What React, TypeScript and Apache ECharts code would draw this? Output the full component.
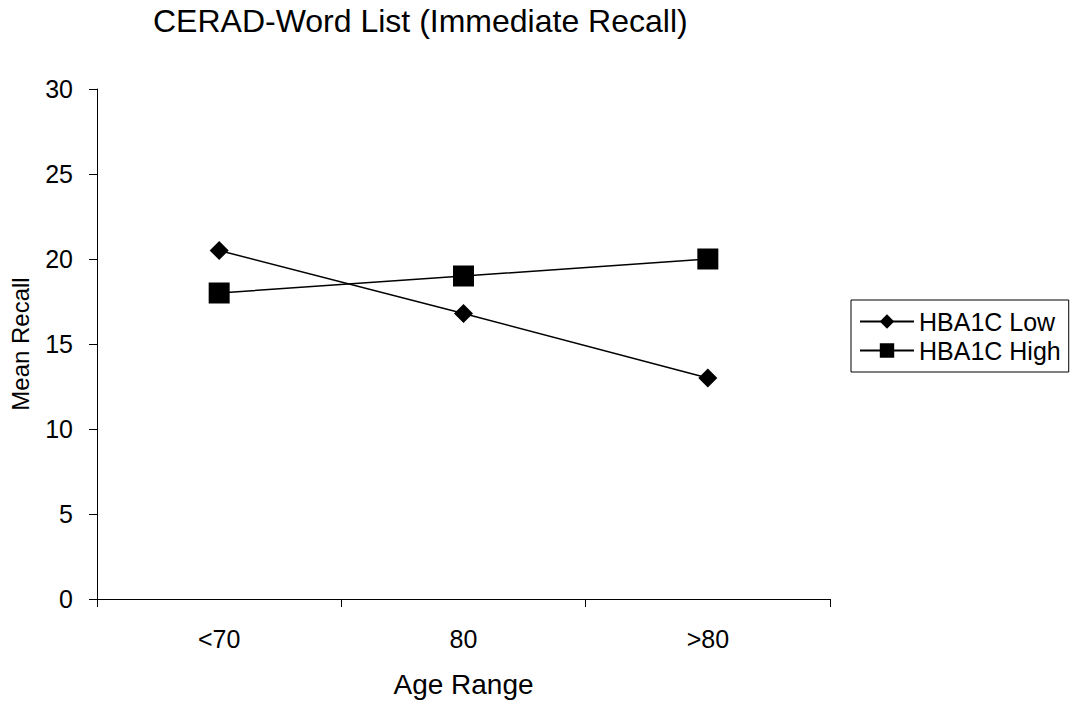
import React, { useEffect, useRef } from "react";
import * as echarts from "echarts";

const categories = ["<70", "80", ">80"];
const lowValues = [20.5, 16.8, 13.0];
const highValues = [18.0, 19.0, 20.0];
const seriesNames = ["HBA1C Low", "HBA1C High"];

export default function App() {
  const ref = useRef<HTMLDivElement>(null);
  useEffect(() => {
    const chart = echarts.init(ref.current!, null, { renderer: "svg" });
    const font = "Liberation Sans, Arial, sans-serif";
    chart.setOption({
      animation: false,
      backgroundColor: "#fff",
      textStyle: { fontFamily: font },
      title: {
        text: "CERAD-Word List (Immediate Recall)",
        left: 148,
        top: 0,
        textStyle: { fontSize: 32, fontWeight: "normal", color: "#000", fontFamily: font },
      },
      grid: { left: 97, right: 245, top: 89, bottom: 103 },
      legend: {
        orient: "vertical",
        left: 851,
        top: 300,
        padding: [9, 8, 9, 8],
        itemGap: 4,
        itemWidth: 54,
        itemHeight: 18,
        borderColor: "#000",
        borderWidth: 1,
        borderRadius: 0,
        textStyle: { fontSize: 25, color: "#000", fontFamily: font },
        data: seriesNames,
      },
      xAxis: {
        type: "category",
        data: categories,
        boundaryGap: true,
        name: "Age Range",
        nameLocation: "middle",
        nameGap: 71,
        nameTextStyle: { fontSize: 28, color: "#000", fontFamily: font },
        axisLine: { lineStyle: { color: "#000", width: 1 } },
        axisTick: { show: true, length: 8, lineStyle: { color: "#000" } },
        axisLabel: { fontSize: 25, color: "#000", margin: 27, fontFamily: font },
      },
      yAxis: {
        type: "value",
        min: 0,
        max: 30,
        interval: 5,
        name: "Mean Recall",
        nameLocation: "middle",
        nameGap: 65,
        nameRotate: 90,
        nameTextStyle: { fontSize: 24, color: "#000", fontFamily: font },
        axisLine: { show: true, lineStyle: { color: "#000", width: 1 } },
        axisTick: { show: true, length: 8, lineStyle: { color: "#000" } },
        axisLabel: { fontSize: 25, color: "#000", margin: 24, fontFamily: font },
        splitLine: { show: false },
      },
      series: [
        {
          name: seriesNames[0],
          type: "line",
          data: lowValues,
          symbol: "diamond",
          symbolSize: 19,
          lineStyle: { color: "#000", width: 1.5 },
          itemStyle: { color: "#000" },
        },
        {
          name: seriesNames[1],
          type: "line",
          data: highValues,
          symbol: "rect",
          symbolSize: 21,
          lineStyle: { color: "#000", width: 1.5 },
          itemStyle: { color: "#000" },
        },
      ],
    });
    return () => chart.dispose();
  }, []);
  return <div ref={ref} style={{ width: 1075, height: 703, position: "absolute", left: 0, top: 0 }} />;
}
